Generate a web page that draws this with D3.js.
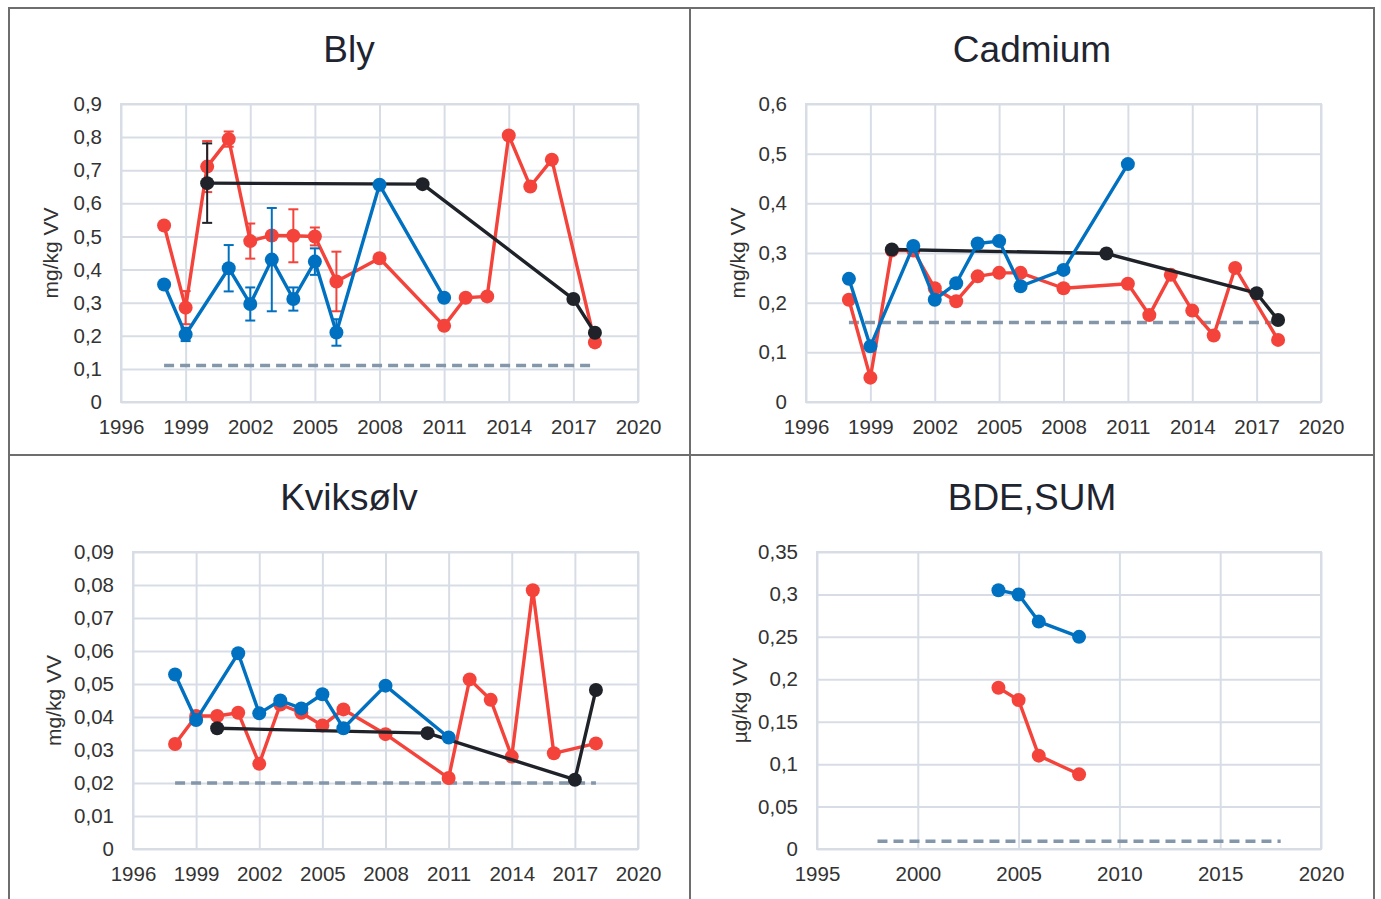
<!DOCTYPE html>
<html>
<head>
<meta charset="utf-8">
<script src="https://cdn.jsdelivr.net/npm/d3@7"></script>
<style>
  body { margin: 0; background: #fff; }
  svg { display: block; font-family: "Liberation Sans", Arial, sans-serif; }
</style>
</head>
<body>
<svg id="chart" width="1381" height="899"></svg>
<script>
// values, [year, value]
const blyRed = [[1998,0.533],[1999,0.285],[2000,0.711],[2001,0.794],[2002,0.486],[2003,0.503],[2004,0.502],[2005,0.5],[2006,0.364],[2008,0.434],[2011,0.23],[2012,0.315],[2013,0.319],[2014,0.805],[2015,0.651],[2016,0.732],[2018,0.18]];
const blyBlue = [[1998,0.355],[1999,0.204],[2001,0.404],[2002,0.296],[2003,0.43],[2004,0.311],[2005,0.424],[2006,0.21],[2008,0.656],[2011,0.315]];
const blyBlack = [[2000,0.661],[2010,0.658],[2017,0.311],[2018,0.209]];
// error bars, [year, +/-]
const blyRedErr = [[1999,0.05],[2000,0.077],[2001,0.023],[2002,0.053],[2004,0.08],[2005,0.027],[2006,0.09]];
const blyBlueErr = [[1999,0.02],[2001,0.07],[2002,0.05],[2003,0.156],[2004,0.035],[2005,0.04],[2006,0.04]];
const blyBlackErr = [[2000,0.12]];

const cdRed = [[1998,0.206],[1999,0.049],[2000,0.305],[2001,0.305],[2002,0.229],[2003,0.203],[2004,0.253],[2005,0.26],[2006,0.26],[2008,0.229],[2011,0.238],[2012,0.175],[2013,0.256],[2014,0.184],[2015,0.134],[2016,0.27],[2018,0.125]];
const cdBlue = [[1998,0.248],[1999,0.112],[2001,0.314],[2002,0.206],[2003,0.239],[2004,0.319],[2005,0.324],[2006,0.233],[2008,0.266],[2011,0.479]];
const cdBlack = [[2000,0.307],[2010,0.299],[2017,0.219],[2018,0.165]];

const hgRed = [[1998,0.0318],[1999,0.0403],[2000,0.0403],[2001,0.0413],[2002,0.0258],[2003,0.0438],[2004,0.0413],[2005,0.0374],[2006,0.0423],[2008,0.0348],[2011,0.0215],[2012,0.0514],[2013,0.0452],[2014,0.028],[2015,0.0784],[2016,0.029],[2018,0.032]];
const hgBlue = [[1998,0.0529],[1999,0.0391],[2001,0.0593],[2002,0.0411],[2003,0.045],[2004,0.0426],[2005,0.0469],[2006,0.0366],[2008,0.0495],[2011,0.0338]];
const hgBlack = [[2000,0.0366],[2010,0.0351],[2017,0.021],[2018,0.0482]];

const bdeRed = [[2004,0.19],[2005,0.1755],[2006,0.11],[2008,0.088]];
const bdeBlue = [[2004,0.305],[2005,0.3],[2006,0.268],[2008,0.25]];

// dashed reference levels, [from, to, value]
const blyRef = [1998, 2018, 0.11];
const cdRef = [1998, 2018, 0.16];
const hgRef = [1998, 2018, 0.02];
const bdeRef = [1998, 2018, 0.009];

const yTicksBly = [0,0.1,0.2,0.3,0.4,0.5,0.6,0.7,0.8,0.9];
const yTicksCd = [0,0.1,0.2,0.3,0.4,0.5,0.6];
const yTicksHg = [0,0.01,0.02,0.03,0.04,0.05,0.06,0.07,0.08,0.09];
const yTicksBde = [0,0.05,0.1,0.15,0.2,0.25,0.3,0.35];
const xTicksA = [1996,1999,2002,2005,2008,2011,2014,2017,2020];
const xTicksB = [1995,2000,2005,2010,2015,2020];

const RED = "#F4433B", BLUE = "#0070C0", BLACK = "#1F2329", REF = "#8496AA", GRID = "#D8DDE5";

const nb = d3.formatLocale({decimal: ",", thousands: " ", grouping: [3], currency: ["", ""]});
const fmt = nb.format("~g");

const svg = d3.select("#chart");

// panel frame
const frame = svg.append("g").attr("stroke", "#6E6E6E").attr("stroke-width", 2).attr("fill", "none");
frame.append("rect").attr("x", 9).attr("y", 8).attr("width", 1365).attr("height", 900);
frame.append("line").attr("x1", 690).attr("x2", 690).attr("y1", 8).attr("y2", 899);
frame.append("line").attr("x1", 9).attr("x2", 1374).attr("y1", 455).attr("y2", 455);

const panels = [
  {title: "Bly", unit: "mg/kg VV", cx: 349, ty: 62, ax: 50, x0: 121, x1: 638, y0: 104, y1: 402,
   xd: [1996, 2020], xt: xTicksA, yt: yTicksBly, ref: blyRef,
   series: [[blyRed, RED, blyRedErr], [blyBlack, BLACK, blyBlackErr], [blyBlue, BLUE, blyBlueErr]]},
  {title: "Cadmium", unit: "mg/kg VV", cx: 1032, ty: 62, ax: 737, x0: 806, x1: 1321, y0: 104, y1: 402,
   xd: [1996, 2020], xt: xTicksA, yt: yTicksCd, ref: cdRef,
   series: [[cdRed, RED], [cdBlack, BLACK], [cdBlue, BLUE]]},
  {title: "Kviksølv", unit: "mg/kg VV", cx: 349, ty: 510, ax: 53, x0: 133, x1: 638, y0: 552, y1: 849,
   xd: [1996, 2020], xt: xTicksA, yt: yTicksHg, ref: hgRef,
   series: [[hgRed, RED], [hgBlack, BLACK], [hgBlue, BLUE]]},
  {title: "BDE,SUM", unit: "µg/kg VV", cx: 1032, ty: 510, ax: 739, x0: 817, x1: 1321, y0: 552, y1: 849,
   xd: [1995, 2020], xt: xTicksB, yt: yTicksBde, ref: bdeRef,
   series: [[bdeRed, RED], [bdeBlue, BLUE]]}
];

panels.forEach(p => {
  const g = svg.append("g");
  const x = d3.scaleLinear().domain(p.xd).range([p.x0, p.x1]);
  const y = d3.scaleLinear().domain([0, d3.max(p.yt)]).range([p.y1, p.y0]);
  const w = p.x1 - p.x0, h = p.y1 - p.y0;

  g.append("text").attr("x", p.cx).attr("y", p.ty).attr("text-anchor", "middle")
    .attr("font-size", 37).attr("fill", "#1F2530").text(p.title);

  g.append("text").attr("transform", `translate(${p.ax},${(p.y0 + p.y1) / 2}) rotate(-90)`)
    .attr("text-anchor", "middle").attr("dominant-baseline", "central")
    .attr("font-size", 21).attr("fill", "#333").text(p.unit);

  // grid + tick labels via axes
  const gx = g.append("g").attr("transform", `translate(0,${p.y1})`)
    .call(d3.axisBottom(x).tickValues(p.xt).tickFormat(d3.format("d")).tickSize(-h).tickPadding(17.5));
  const gy = g.append("g").attr("transform", `translate(${p.x0},0)`)
    .call(d3.axisLeft(y).tickValues(p.yt).tickFormat(fmt).tickSize(-w).tickPadding(19));
  [gx, gy].forEach(a => {
    a.select(".domain").remove();
    a.selectAll("line").attr("stroke", GRID).attr("stroke-width", 2);
    a.selectAll("text").attr("font-size", 20.5).attr("fill", "#333").attr("font-family", "Liberation Sans, Arial, sans-serif");
  });
  g.append("rect").attr("x", p.x0).attr("y", p.y0).attr("width", w).attr("height", h)
    .attr("fill", "none").attr("stroke", GRID).attr("stroke-width", 2);

  // reference level
  g.append("line").attr("x1", x(p.ref[0])).attr("x2", x(p.ref[1]))
    .attr("y1", y(p.ref[2])).attr("y2", y(p.ref[2]))
    .attr("stroke", REF).attr("stroke-width", 3.5).attr("stroke-dasharray", "10,6");

  const line = d3.line().x(d => x(d[0])).y(d => y(d[1]));

  p.series.forEach(([data, col, err]) => {
    const s = g.append("g");
    if (err) {
      const lookup = new Map(data);
      err.forEach(([yr, e]) => {
        const v = lookup.get(yr);
        const eg = s.append("g").attr("stroke", col).attr("stroke-width", 2);
        eg.append("line").attr("x1", x(yr)).attr("x2", x(yr)).attr("y1", y(v - e)).attr("y2", y(v + e));
        [v - e, v + e].forEach(b => eg.append("line")
          .attr("x1", x(yr) - 5).attr("x2", x(yr) + 5).attr("y1", y(b)).attr("y2", y(b)));
      });
    }
    s.append("path").datum(data).attr("d", line).attr("fill", "none")
      .attr("stroke", col).attr("stroke-width", 3.4).attr("stroke-linejoin", "round");
    s.selectAll("circle").data(data).join("circle")
      .attr("cx", d => x(d[0])).attr("cy", d => y(d[1])).attr("r", 7).attr("fill", col);
  });
});
</script>
</body>
</html>
